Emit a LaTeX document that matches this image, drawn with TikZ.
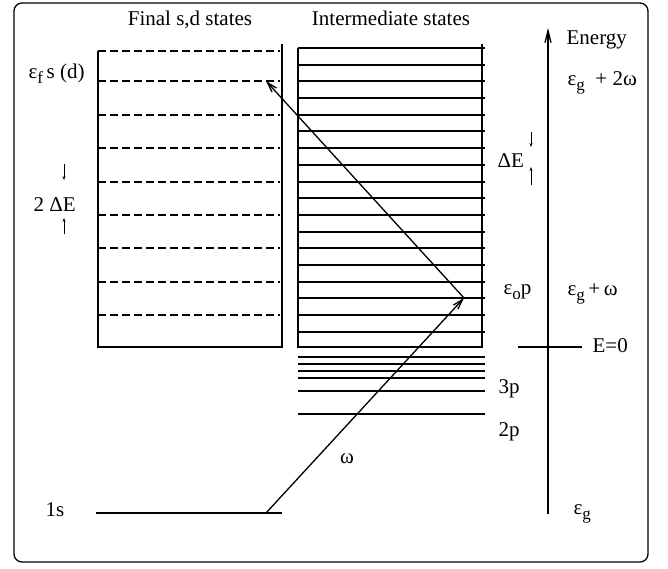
\documentclass[tikz,border=0pt]{standalone}
\usepackage{fontspec}
\setmainfont{Liberation Serif}
\usetikzlibrary{arrows.meta}
\newcommand{\lowidx}[1]{\raisebox{-0.6ex}{\fontsize{17}{17}\selectfont #1}}

\begin{document}
\begin{tikzpicture}[x=1pt, y=-1pt, line width=1.3pt, every node/.style={font=\fontsize{21}{25}\selectfont, inner sep=0pt}]
	\useasboundingbox (0,0) rectangle (668,568);
	\draw[rounded corners=8pt] (14,3) rectangle (648,562);
	% final s,d states
	\draw (98,51) -- (98,347) -- (282,347) -- (282,44);
	\foreach \y in {51,81,115,148,182,215,248,282,315}
		\draw[dash pattern=on 8pt off 4pt] (98,\y) -- (280,\y);
	\node[anchor=base] (finaltitle) at (190,25) {Final s,d states};
	\node[anchor=base west] (epsf) at (28,78) {ε\lowidx{f}\,s (d)};
	\node[anchor=base west] (twode) at (33,211) {2 ΔE};
	\draw[-{Stealth[length=4pt,width=3pt]}, line width=0.9pt] (64,164) -- (64,180);
	\draw[-{Stealth[length=4pt,width=3pt]}, line width=0.9pt] (64,234) -- (64,218);
	% intermediate states
	\draw (298,48) -- (298,347) -- (482,347) -- (482,44);
	\foreach \y in {48,65,81,98,115,131,148,165,182,198,215,232,248,265,282,298,315,332}
		\draw (298,\y) -- (485,\y);
	\foreach \y in {357,364,371,378,391,414}
		\draw (298,\y) -- (485,\y);
	\node[anchor=base] (intertitle) at (391,25) {Intermediate states};
	\node[anchor=base west] (de) at (497,167) {ΔE};
	\draw[-{Stealth[length=4pt,width=3pt]}, line width=0.9pt] (531,132) -- (531,147);
	\draw[-{Stealth[length=4pt,width=3pt]}, line width=0.9pt] (531,185) -- (531,167);
	\node[anchor=base west] (eps0) at (503,294) {ε\lowidx{o}p};
	\node[anchor=base west] (lev3p) at (498,393) {3p};
	\node[anchor=base west] (lev2p) at (498,436) {2p};
	% ground state and transitions
	\draw (96,513) -- (282,513);
	\node[anchor=base west] (lev1s) at (45,516) {1s};
	\coordinate (s1) at (266,513);
	\coordinate (p0) at (464,298);
	\coordinate (fd) at (266,81);
	\draw[-{Straight Barb[length=10pt,width=6pt]}] (s1) -- (p0);
	\draw[-{Straight Barb[length=10pt,width=6pt]}] (p0) -- (fd);
	\node[anchor=base] (omega) at (347,463) {ω};
	% energy axis
	\coordinate (ebot) at (548,514);
	\coordinate (etop) at (548,28);
	\draw[-{Straight Barb[length=12pt,width=6pt]}] (ebot) -- (etop);
	\draw (518,347) -- (582,347);
	\node[anchor=base west] (energy) at (566,44) {Energy};
	\node[anchor=base west] (eg2w) at (567,85) {ε\lowidx{g}\ \ + 2ω};
	\node[anchor=base west] (egw) at (567,295) {ε\lowidx{g}\,+\,ω};
	\node[anchor=base west] (ezero) at (592,352) {E=0};
	\node[anchor=base west] (eg) at (573,514) {ε\lowidx{g}};
\end{tikzpicture}
\end{document}
